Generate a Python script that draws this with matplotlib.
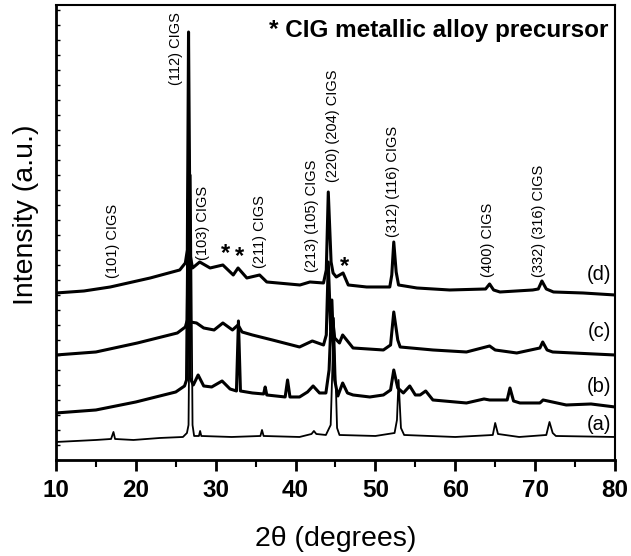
import matplotlib
matplotlib.use("Agg")
import matplotlib.pyplot as plt
import matplotlib.ticker as mticker

plt.rcParams['font.family'] = ['Liberation Sans', 'DejaVu Sans']

# XRD patterns: 2theta (deg) and intensity (a.u., offset stacked)
two_theta_a = [10.0, 15.0, 16.9, 17.2, 17.4, 19.7, 23.0, 25.9, 26.4, 26.6, 26.87, 27.1, 27.3,
               27.9, 28.05, 28.2, 32.0, 35.6, 35.8, 36.0, 40.5, 42.0, 42.3, 42.6, 43.8, 44.4,
               44.8, 45.2, 45.5, 50.0, 52.4, 52.7, 52.9, 53.2, 53.6, 60.0, 64.7, 65.0, 65.35,
               68.0, 71.4, 71.8, 72.2, 72.6, 80.0]
intensity_a = [18, 20, 21, 28, 21, 20, 22, 23, 27, 35, 285, 35, 24,
               24, 29, 24, 23, 24, 30, 24, 23, 26, 29, 26, 25, 35,
               142, 32, 25, 24, 27, 40, 80, 32, 25, 23, 25, 37, 26,
               23, 25, 38, 27, 24, 23]

two_theta_b = [10.0, 15.0, 20.0, 25.0, 26.1, 26.35, 26.55, 26.8, 27.2, 27.8, 28.5, 29.5, 30.8,
               31.8, 32.6, 32.85, 33.1, 34.6, 36.0, 36.2, 36.4, 38.7, 39.0, 39.3, 40.5, 41.5,
               42.2, 43.0, 43.8, 44.2, 44.55, 44.9, 45.3, 45.9, 46.5, 47.2, 49.3, 51.0, 51.9,
               52.3, 52.8, 53.5, 54.3, 55.0, 55.6, 56.3, 57.2, 61.4, 63.6, 64.3, 66.5, 66.85,
               67.3, 68.1, 70.6, 71.0, 73.9, 77.0, 80.0]
intensity_b = [47, 50, 58, 68, 74, 80, 260, 82, 75, 85, 74, 73, 79,
               71, 69, 139, 69, 67, 66, 73, 65, 63, 80, 63, 63, 68,
               74, 67, 67, 90, 160, 80, 64, 77, 67, 65, 63, 65, 70,
               90, 72, 67, 74, 65, 65, 69, 60, 57, 61, 60, 60, 72,
               59, 57, 57, 60, 55, 56, 53]

two_theta_c = [10.0, 15.0, 20.2, 25.2, 26.2, 26.45, 26.62, 26.85, 27.6, 28.5, 29.8, 30.9, 32.1,
               32.8, 33.3, 34.6, 37.1, 40.5, 42.1, 43.5, 43.85, 44.1, 44.4, 44.65, 44.9, 45.5,
               45.9, 47.2, 51.0, 51.9, 52.3, 52.8, 53.1, 57.2, 61.4, 64.3, 65.0, 67.7, 70.6,
               70.95, 71.5, 72.2, 80.0]
intensity_c = [105, 108, 117, 127, 133, 140, 310, 138, 137, 132, 130, 137, 130,
               135, 128, 125, 120, 113, 119, 115, 125, 198, 130, 140, 122, 117,
               125, 112, 110, 115, 148, 120, 113, 110, 108, 114, 110, 107, 112,
               118, 110, 108, 105]

two_theta_d = [10.0, 13.5, 16.8, 21.8, 25.5, 26.2, 26.45, 26.6, 26.8, 27.1, 28.0, 29.3, 30.9,
               32.2, 32.8, 33.9, 35.5, 36.4, 40.55, 41.8, 43.5, 43.85, 44.1, 44.45, 44.7, 45.1,
               45.95, 46.6, 48.9, 51.8, 52.05, 52.3, 52.6, 52.9, 55.2, 59.3, 63.8, 64.3, 64.8,
               65.6, 69.7, 70.4, 70.85, 71.4, 72.3, 76.0, 80.0]
intensity_d = [167, 169, 173, 182, 190, 197, 210, 428, 205, 192, 198, 192, 195,
               185, 192, 182, 185, 178, 175, 178, 177, 190, 268, 198, 187, 183,
               187, 175, 173, 173, 185, 218, 188, 175, 172, 170, 171, 176, 170,
               168, 170, 171, 179, 171, 168, 167, 165]

curve_names = ['(a)', '(b)', '(c)', '(d)']
curve_label_y = [35, 73, 128, 185]

peak_labels = ['(101) CIGS', '(112) CIGS', '(103) CIGS', '(211) CIGS', '(213) (105) CIGS',
               '(220) (204) CIGS', '(312) (116) CIGS', '(400) CIGS', '(332) (316) CIGS']
peak_label_x = [17.1, 25.0, 28.4, 35.5, 42.0, 44.7, 52.2, 64.1, 70.5]
peak_label_y = [182, 375, 200, 192, 188, 278, 223, 183, 183]

star_x = [31.2, 33.0, 46.1]
star_y = [206, 203, 193]

fig = plt.figure(figsize=(6.31, 5.56), dpi=100)
ax = fig.add_axes([0.0887, 0.1727, 0.8859, 0.8183])

ax.plot(two_theta_a, intensity_a, color='black', lw=1.3)
ax.plot(two_theta_b, intensity_b, color='black', lw=2.2)
ax.plot(two_theta_c, intensity_c, color='black', lw=2.2)
ax.plot(two_theta_d, intensity_d, color='black', lw=2.2)

ax.set_xlim(10, 80)
ax.set_ylim(0, 455)

ax.xaxis.set_major_locator(mticker.MultipleLocator(10))
ax.xaxis.set_minor_locator(mticker.MultipleLocator(5))
ax.yaxis.set_major_locator(mticker.MultipleLocator(15))
ax.yaxis.set_major_formatter(mticker.NullFormatter())
ax.tick_params(axis='x', which='major', direction='out', length=8, width=2, pad=6, labelsize=17.5)
ax.tick_params(axis='x', which='minor', direction='out', length=5, width=1.5)
ax.tick_params(axis='y', which='major', direction='in', length=3, width=1)
for lab in ax.get_xticklabels():
    lab.set_fontweight('bold')
for side in ['left', 'bottom']:
    ax.spines[side].set_linewidth(2)
for side in ['top', 'right']:
    ax.spines[side].set_linewidth(1.5)

ax.set_xlabel(u'2\u03b8 (degrees)', fontsize=20.5, labelpad=17)
ax.set_ylabel('Intensity (a.u.)', fontsize=20.5)
ax.yaxis.set_label_coords(-0.03, 0.54)

for name, y in zip(curve_names, curve_label_y):
    ax.text(79.5, y, name, fontsize=14.5, ha='right', va='center')

for lab, x, y in zip(peak_labels, peak_label_x, peak_label_y):
    ax.text(x, y, lab, fontsize=10.5, rotation=90, ha='center', va='bottom')

for x, y in zip(star_x, star_y):
    ax.text(x, y, '*', fontsize=17, fontweight='bold', ha='center', va='center')

ax.text(0.9875, 0.945, '* CIG metallic alloy precursor', transform=ax.transAxes,
        fontsize=17.5, fontweight='bold', ha='right', va='center')

plt.savefig('out.png', dpi=100)
